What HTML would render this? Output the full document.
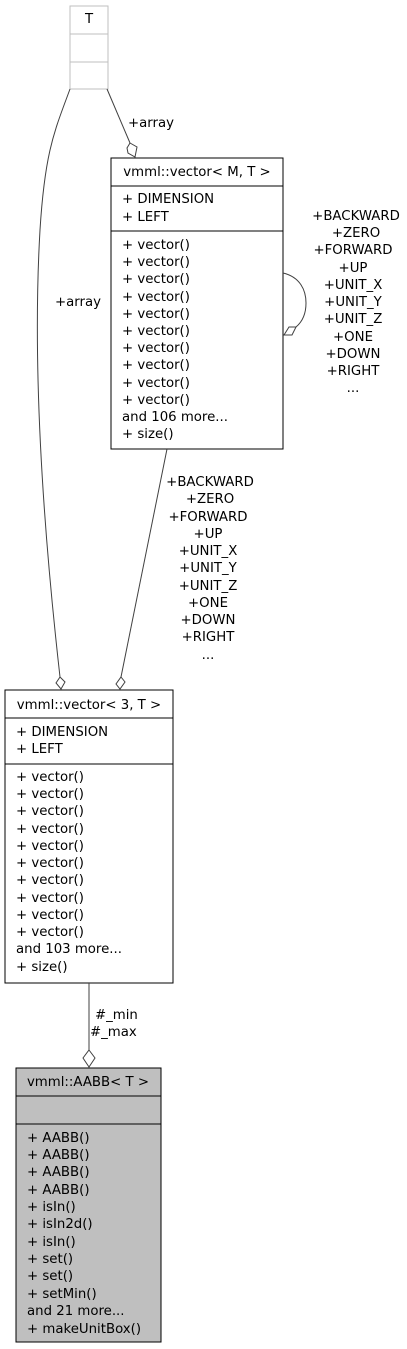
<!DOCTYPE html>
<html><head><meta charset="utf-8"><style>
html,body{margin:0;padding:0;background:#fff;}
svg{display:block;}
text{font-family:"DejaVu Sans","Liberation Sans",sans-serif;font-size:13.3px;fill:#000;}
</style></head><body>
<svg width="407" height="1349" viewBox="0 0 407 1349" xmlns="http://www.w3.org/2000/svg">
<rect x="70" y="6" width="38" height="83" fill="#fff" stroke="#bfbfbf" stroke-width="1"/>
<line x1="70" y1="34" x2="108" y2="34" stroke="#bfbfbf"/>
<line x1="70" y1="62" x2="108" y2="62" stroke="#bfbfbf"/>
<text x="89" y="23" text-anchor="middle">T</text>

<path d="M107,89 L130,143" fill="none" stroke="#404040"/>
<polygon points="130,143 137,147 135,157 128,153 127,148" fill="#fff" stroke="#404040"/>
<text x="128" y="127">+array</text>

<path d="M70,89 C55,130 45,150 40,230 C33,350 40,500 60,677" fill="none" stroke="#404040"/>
<polygon points="60,677 65,682 61,689 56,683" fill="#fff" stroke="#404040"/>
<text x="55" y="306">+array</text>

<rect x="111" y="158" width="172" height="291" fill="#fff" stroke="#000"/>
<line x1="111" y1="186" x2="283" y2="186" stroke="#000"/>
<line x1="111" y1="231" x2="283" y2="231" stroke="#000"/>
<text x="197" y="176" text-anchor="middle">vmml::vector&lt; M, T &gt;</text>
<text x="122" y="203">+ DIMENSION</text>
<text x="122" y="221">+ LEFT</text>
<text x="122" y="249">+ vector()</text>
<text x="122" y="266">+ vector()</text>
<text x="122" y="283">+ vector()</text>
<text x="122" y="301">+ vector()</text>
<text x="122" y="318">+ vector()</text>
<text x="122" y="335">+ vector()</text>
<text x="122" y="352">+ vector()</text>
<text x="122" y="369">+ vector()</text>
<text x="122" y="387">+ vector()</text>
<text x="122" y="404">+ vector()</text>
<text x="122" y="421">and 106 more...</text>
<text x="122" y="438">+ size()</text>

<path d="M283,273 C300,277 306,290 306,303 C306,315 302,322 296,327" fill="none" stroke="#404040"/>
<polygon points="296,327 289,327 284,335 292,335" fill="#fff" stroke="#404040"/>
<g text-anchor="middle">
<text x="356" y="220">+BACKWARD</text>
<text x="356" y="237">+ZERO</text>
<text x="353" y="254">+FORWARD</text>
<text x="353" y="272">+UP</text>
<text x="353" y="289">+UNIT_X</text>
<text x="353" y="306">+UNIT_Y</text>
<text x="353" y="323">+UNIT_Z</text>
<text x="353" y="341">+ONE</text>
<text x="353" y="358">+DOWN</text>
<text x="353" y="375">+RIGHT</text>
<text x="353" y="392">...</text>
</g>

<path d="M167,449 L121,677" fill="none" stroke="#404040"/>
<polygon points="121,677 125,682 120,689 116,684" fill="#fff" stroke="#404040"/>
<g text-anchor="middle">
<text x="210" y="486">+BACKWARD</text>
<text x="210" y="503">+ZERO</text>
<text x="208" y="521">+FORWARD</text>
<text x="208" y="538">+UP</text>
<text x="208" y="555">+UNIT_X</text>
<text x="208" y="572">+UNIT_Y</text>
<text x="208" y="590">+UNIT_Z</text>
<text x="208" y="607">+ONE</text>
<text x="208" y="624">+DOWN</text>
<text x="208" y="641">+RIGHT</text>
<text x="208" y="659">...</text>
</g>

<rect x="5" y="690" width="168" height="293" fill="#fff" stroke="#000"/>
<line x1="5" y1="718" x2="173" y2="718" stroke="#000"/>
<line x1="5" y1="764" x2="173" y2="764" stroke="#000"/>
<text x="89" y="709" text-anchor="middle">vmml::vector&lt; 3, T &gt;</text>
<text x="16" y="736">+ DIMENSION</text>
<text x="16" y="753">+ LEFT</text>
<text x="16" y="781">+ vector()</text>
<text x="16" y="798">+ vector()</text>
<text x="16" y="815">+ vector()</text>
<text x="16" y="833">+ vector()</text>
<text x="16" y="850">+ vector()</text>
<text x="16" y="867">+ vector()</text>
<text x="16" y="884">+ vector()</text>
<text x="16" y="902">+ vector()</text>
<text x="16" y="919">+ vector()</text>
<text x="16" y="936">+ vector()</text>
<text x="16" y="953">and 103 more...</text>
<text x="16" y="971">+ size()</text>

<line x1="89" y1="983" x2="89" y2="1050" stroke="#404040"/>
<polygon points="89,1050 95,1058 89,1067 83,1058" fill="#fff" stroke="#404040"/>
<text x="95" y="1019">#_min</text>
<text x="90" y="1036">#_max</text>

<rect x="16" y="1068" width="145" height="274" fill="#bfbfbf" stroke="#000"/>
<line x1="16" y1="1096" x2="161" y2="1096" stroke="#000"/>
<line x1="16" y1="1124" x2="161" y2="1124" stroke="#000"/>
<text x="88" y="1086" text-anchor="middle">vmml::AABB&lt; T &gt;</text>
<text x="27" y="1142">+ AABB()</text>
<text x="27" y="1159">+ AABB()</text>
<text x="27" y="1176">+ AABB()</text>
<text x="27" y="1194">+ AABB()</text>
<text x="27" y="1211">+ isIn()</text>
<text x="27" y="1228">+ isIn2d()</text>
<text x="27" y="1246">+ isIn()</text>
<text x="27" y="1263">+ set()</text>
<text x="27" y="1280">+ set()</text>
<text x="27" y="1298">+ setMin()</text>
<text x="27" y="1315">and 21 more...</text>
<text x="27" y="1333">+ makeUnitBox()</text>
</svg>
</body></html>
